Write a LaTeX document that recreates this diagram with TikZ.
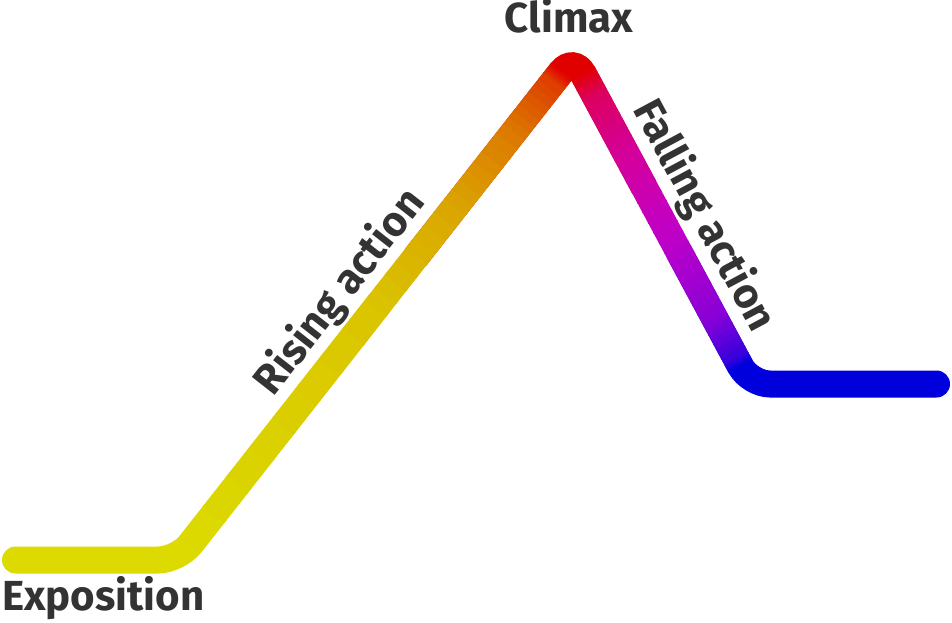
\documentclass[tikz,border=0pt]{standalone}
\usepackage{fontspec}
\setmainfont{Fira Sans}
\usetikzlibrary{calc}
\definecolor{ink}{RGB}{51,51,51}
% rising leg, bottom to top
\definecolor{riseA}{RGB}{220,218,0}
\definecolor{riseB}{RGB}{218,196,0}
\definecolor{riseC}{RGB}{218,165,0}
\definecolor{riseD}{RGB}{220,120,0}
\definecolor{riseE}{RGB}{222,60,0}
\definecolor{riseF}{RGB}{225,0,0}
% falling leg, top to bottom
\definecolor{fallA}{RGB}{225,0,0}
\definecolor{fallB}{RGB}{220,0,95}
\definecolor{fallC}{RGB}{212,0,155}
\definecolor{fallD}{RGB}{192,0,200}
\definecolor{fallE}{RGB}{135,0,215}
\definecolor{fallF}{RGB}{55,0,220}
\definecolor{fallG}{RGB}{0,0,220}

\begin{document}
\begin{tikzpicture}[x=0.75pt,y=-0.75pt,
  label/.style={font=\bfseries\fontsize{31.5}{38}\selectfont,text=ink,inner sep=0pt},
  arc/.style={line width=20.25pt,rounded corners=15pt},
  leg/.style={line width=20.25pt,line cap=butt}]
  \useasboundingbox (0,0) rectangle (952,622);

  \coordinate (start) at (15.5,560);
  \coordinate (bend) at (178,560);
  \coordinate (peak) at (573.6,56);
  \coordinate (dip) at (750,384);
  \coordinate (stop) at (936.5,384);

  % base colours at the three corners
  \draw[arc,line cap=round,riseA] (start) -- (bend) -- ($(bend)!0.5!(peak)$);
  \draw[arc,riseF] ($(bend)!0.6!(peak)$) -- (peak) -- ($(peak)!0.4!(dip)$);
  \draw[arc,line cap=round,fallG] ($(peak)!0.6!(dip)$) -- (dip) -- (stop);

  % gradient along the straight parts
  \foreach \ta/\tb/\ca/\cb in {0.03/0.5/riseA/riseB,0.5/0.7/riseB/riseC,
      0.7/0.85/riseC/riseD,0.85/0.95/riseD/riseE,0.95/0.97/riseE/riseF}
    \foreach \k in {0,...,7}{
      \pgfmathsetmacro\s{\ta+(\tb-\ta)*\k/8}
      \pgfmathsetmacro\e{\ta+(\tb-\ta)*(\k+1.2)/8}
      \pgfmathsetmacro\m{100-100*(\k+0.5)/8}
      \draw[leg,\ca!\m!\cb] ($(bend)!\s!(peak)$) -- ($(bend)!\e!(peak)$);
    }
  \foreach \ta/\tb/\ca/\cb in {0.05/0.12/fallA/fallB,0.12/0.3/fallB/fallC,
      0.3/0.55/fallC/fallD,0.55/0.8/fallD/fallE,0.8/0.92/fallE/fallF,
      0.92/0.945/fallF/fallG}
    \foreach \k in {0,...,7}{
      \pgfmathsetmacro\s{\ta+(\tb-\ta)*\k/8}
      \pgfmathsetmacro\e{\ta+(\tb-\ta)*(\k+1.2)/8}
      \pgfmathsetmacro\m{100-100*(\k+0.5)/8}
      \draw[leg,\ca!\m!\cb] ($(peak)!\s!(dip)$) -- ($(peak)!\e!(dip)$);
    }

  \node[label,anchor=base west] (expo) at (2,610) {Exposition};
  \node[label,anchor=base] (climax) at (569,32) {Climax};
  \node[label,anchor=base,rotate=51.9] (rising) at (350,300) {Rising action};
  \node[label,anchor=base,rotate=-61.8] (falling) at (693,222) {Falling action};
\end{tikzpicture}
\end{document}
